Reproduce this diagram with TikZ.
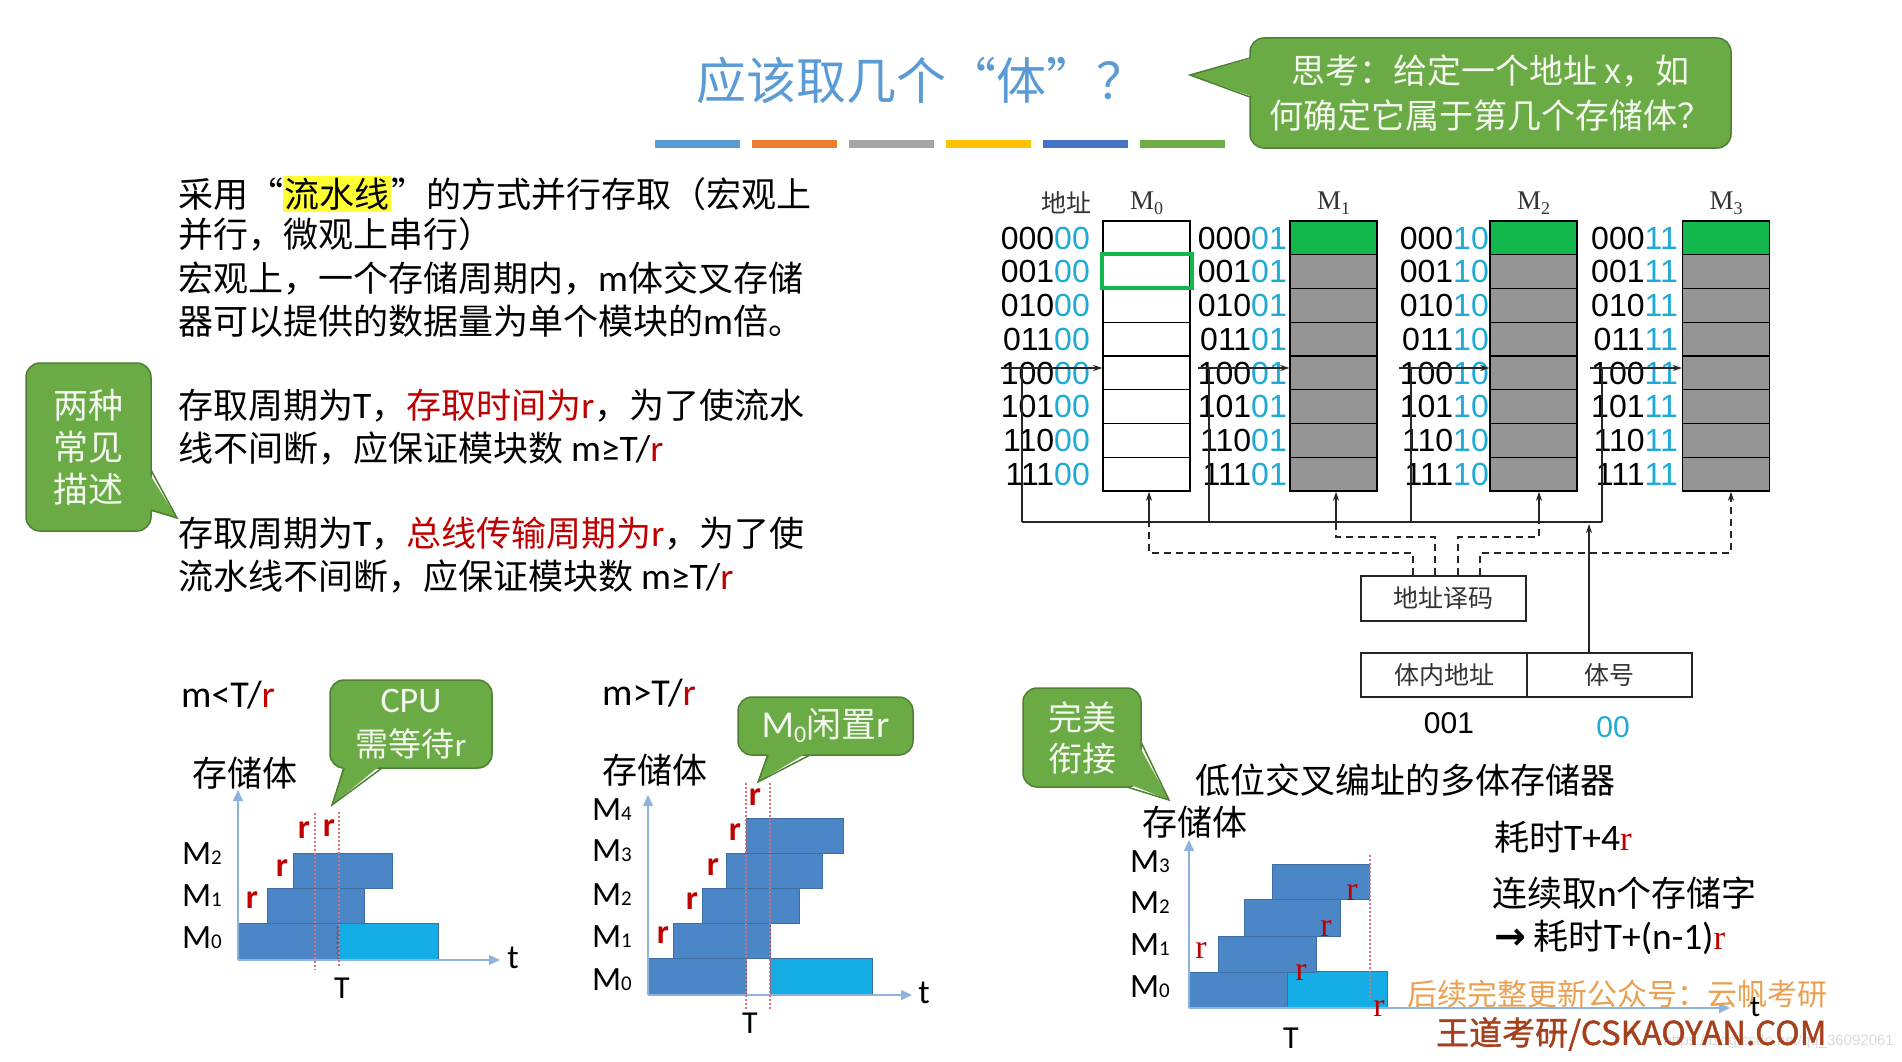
\documentclass[tikz,border=0pt]{standalone}
\usepackage{fontspec}
\setmainfont{Noto Sans CJK SC}
\newfontfamily\calfont{Carlito}
\newfontfamily\latf[Scale=1.07]{Carlito}
\newfontfamily\serfont{Liberation Serif}
\newfontfamily\arifont{Liberation Sans}
\newfontfamily\djvfont{DejaVu Sans}
\newfontfamily\boldcjk[FakeBold=1.2]{Noto Sans CJK SC}
\usetikzlibrary{arrows.meta,decorations.pathmorphing}
\newcommand\fsz[1]{\fontsize{#1}{#1}\selectfont}
\newcommand\Mlab[1]{M{\fsz{21}#1}}
\newcommand\lt[1]{{\latf #1}}
\definecolor{titleblue}{HTML}{5B9BD5}
\definecolor{cgreen}{HTML}{6AAB45}
\definecolor{cgreenD}{HTML}{4F7F33}
\definecolor{ctext}{HTML}{F4F8EE}
\definecolor{dred}{HTML}{C00000}
\definecolor{addrblue}{HTML}{1FAAD6}
\definecolor{memgray}{HTML}{959595}
\definecolor{memgreen}{HTML}{12B84B}
\definecolor{barblue}{HTML}{4B86C6}
\definecolor{barblueD}{HTML}{3C6DA3}
\definecolor{barcyan}{HTML}{14ADE6}
\definecolor{axisblue}{HTML}{8DB3DE}
\definecolor{hlyellow}{HTML}{FFFF33}
\definecolor{wmorange}{HTML}{EAA050}
\definecolor{wmred}{HTML}{A5401C}
\definecolor{dotred}{HTML}{D9707A}
\definecolor{bari}{HTML}{5B9BD5}
\definecolor{barii}{HTML}{ED7D31}
\definecolor{bariii}{HTML}{A5A5A5}
\definecolor{bariv}{HTML}{FFC000}
\definecolor{barv}{HTML}{4472C4}
\definecolor{barvi}{HTML}{70AD47}
\setlength{\fboxsep}{1.5pt}
\begin{document}
\begin{tikzpicture}[x=1pt,y=-1pt,
  body/.style={anchor=west,inner sep=0pt,font=\fsz{35}},
  callbox/.style={fill=cgreen,draw=cgreenD,line width=1.5pt,rounded corners=14pt,text=ctext,align=center,inner sep=0pt},
  cell/.style={draw=black,line width=1.4pt,minimum width=87pt,minimum height=33.75pt,inner sep=0pt},
  addr/.style={anchor=east,inner sep=0pt,font=\arifont\fsz{32}},
  wire/.style={draw=black!85,line width=1.5pt},
  dashw/.style={draw=black!85,line width=1.5pt,dash pattern=on 7pt off 5pt},
  tip/.style={-{Stealth[length=9pt,width=6pt]}},
  axis/.style={draw=axisblue,line width=1.5pt,-{Triangle[length=11pt,width=10pt]}},
  barst/.style={fill=barblue,draw=barblueD,line width=1pt},
  cyanst/.style={fill=barcyan,draw=barblueD,line width=1pt},
  dotl/.style={draw=dotred,line width=1.2pt,dash pattern=on 2pt off 2pt},
  mlab/.style={font=\calfont\fsz{34},inner sep=0pt},
  rlab/.style={font=\calfont\bfseries\fsz{34},text=dred,inner sep=0pt},
  rser/.style={font=\serfont\fsz{34},text=dred,inner sep=0pt},
  cjk/.style={font=\fsz{35},inner sep=0pt},
  boxst/.style={draw=black!85,line width=1.5pt,inner sep=0pt,font=\fsz{25},text=black!80}
]
\useasboundingbox (0,0) rectangle (1902,1062);
\fill[white] (0,0) rectangle (1902,1062);

% ---------- title ----------
\node[font=\fsz{50},text=titleblue,inner sep=0pt] (title) at (921,80) {应该取几个“体”？};
\foreach \k/\col in {0/bari,1/barii,2/bariii,3/bariv,4/barv,5/barvi}
  \fill[\col] ({655+97*\k},140) rectangle ++(85,8);

% ---------- callout top right ----------
\node[callbox,minimum width=481pt,minimum height=110pt,font=\fontsize{34}{45}\selectfont] (think) at (1490.5,93)
  {思考：给定一个地址 x，如\\何确定它属于第几个存储体？};
\coordinate (thinktip) at (1190,75);
\fill[cgreen] (1254,58) -- (thinktip) -- (1254,97) -- cycle;
\draw[cgreenD,line width=1.5pt] (1250,58) -- (thinktip) -- (1250,97);

% ---------- left text ----------
\node[body] (l1) at (178,194) {采用“\colorbox{hlyellow}{流水线}”的方式并行存取（宏观上};
\node[body] (l2) at (178,234) {并行，微观上串行）};
\node[body] (l3) at (178,279) {宏观上，一个存储周期内，\lt{m}体交叉存储};
\node[body] (l4) at (178,321) {器可以提供的数据量为单个模块的\lt{m}倍。};
\node[body] (l5) at (178,406) {存取周期为\lt{T}，\textcolor{dred}{存取时间为\lt{r}}，为了使流水};
\node[body] (l6) at (178,449) {线不间断，应保证模块数 \lt{m≥T/\textcolor{dred}{r}}};
\node[body] (l7) at (178,534) {存取周期为\lt{T}，\textcolor{dred}{总线传输周期为\lt{r}}，为了使};
\node[body] (l8) at (178,577) {流水线不间断，应保证模块数 \lt{m≥T/\textcolor{dred}{r}}};

% callout two descriptions
\node[callbox,minimum width=125pt,minimum height=168pt,font=\fontsize{35}{42}\selectfont] (two) at (88.5,447) {两种\\常见\\描述};
\coordinate (twotip) at (177,518);
\fill[cgreen] (147,470) -- (twotip) -- (147,510) -- cycle;
\draw[cgreenD,line width=1.5pt] (151,470) -- (twotip) -- (151,510);

% ---------- memory diagram ----------
\node[font=\fsz{25},text=black!80,inner sep=0pt] (addrhead) at (1066,203) {地址};
\foreach \c/\cx/\lx/\suf/\vx/\hx/\jx in {0/1146.5/1090/00/1022/1001/1149,1/1333.5/1287/01/1209/1198/1336,2/1533.5/1489/10/1411/1399/1539,3/1726/1678/11/1602/1590/1731}{
  \node[font=\serfont\fsz{27},inner sep=0pt,text=black!80] (mh\c) at (\cx,203) {M\raisebox{-5pt}{\fsz{18}\c}};
  \foreach \b [count=\i from 0] in {000,001,010,011,100,101,110,111}{
    \ifnum\i=0 \def\fc{memgreen}\else\def\fc{memgray}\fi
    \ifnum\c=0 \def\fc{white}\fi
    \node[cell,fill=\fc] (m\c-\i) at (\cx,{237.9+33.75*\i}) {};
    \node[addr] (a\c-\i) at (\lx,{238+33.75*\i}) {\b\textcolor{addrblue}{\suf}};
  }
  \coordinate (h\c) at (\hx,368);
  \coordinate (v\c) at (\vx,368);
  \coordinate (vb\c) at (\vx,522);
  \coordinate (j\c) at (\jx,522);
  \draw[wire,tip] (h\c) -- (h\c -| m\c-4.west);
  \draw[wire] (v\c) -- (vb\c);
}
\draw[memgreen,line width=3.5pt] (1102,254) rectangle (1192,288);
\draw[wire] (vb0) -- (vb3);

\node[boxst,minimum width=165pt,minimum height=45pt] (dec) at (1443.5,598.5) {地址译码};
\node[boxst,minimum width=166pt,minimum height=44pt] (inner) at (1444,675) {体内地址};
\node[boxst,minimum width=165pt,minimum height=44pt] (bank) at (1609.5,675) {体号};
\coordinate (busup) at (1589,524);
\draw[wire,tip] ([xshift=-20.5pt]bank.north) -- (busup);
\node[font=\arifont\fsz{30},inner sep=0pt] (v001) at (1449,723) {001};
\node[font=\arifont\fsz{30},text=addrblue,inner sep=0pt] (v00) at (1613,727) {00};

\coordinate (k0) at (1149,553);
\coordinate (k1) at (1336,537);
\coordinate (k2) at (1539,537);
\coordinate (k3) at (1731,553);
\draw[dashw] ([xshift=-30.5pt]dec.north) |- (k0) -- (j0);
\draw[dashw] ([xshift=-8.5pt]dec.north) |- (k1) -- (j1);
\draw[dashw] ([xshift=14.5pt]dec.north) |- (k2) -- (j2);
\draw[dashw,tip] ([xshift=36.5pt]dec.north) |- (k3) -- (k3 |- m3-7.south);
\draw[wire,tip] (j0) -- (j0 |- m0-7.south);
\draw[wire,tip] (j1) -- (j1 |- m1-7.south);
\draw[wire,tip] (j2) -- (j2 |- m2-7.south);

% ---------- chart 1 : m<T/r ----------
\node[anchor=west,font=\calfont\fsz{38},inner sep=0pt] (h1) at (181,695) {m<T/\textcolor{dred}{r}};
\node[cjk] (s1) at (245,773) {存储体};
\draw[barst] (238,923) rectangle (338,960);
\draw[cyanst] (338,923) rectangle (438,960);
\draw[barblueD,line width=1.2pt,decorate,decoration={snake,amplitude=1.3pt,segment length=5pt}] (338,924) -- (338,959);
\draw[barst] (267,888) rectangle (364,923);
\draw[barst] (293,853) rectangle (392,888);
\coordinate (o1) at (238,960);
\draw[axis] (o1) -- (238,790);
\draw[axis] (o1) -- (500,960);
\draw[dotl] (315,813) -- (315,970);
\draw[dotl] (339,812) -- (339,968);
\node[mlab] (c1m2) at (202,854) {\Mlab{2}};
\node[mlab] (c1m1) at (202,896) {\Mlab{1}};
\node[mlab] (c1m0) at (202,938) {\Mlab{0}};
\node[rlab] at (252,900) {r};
\node[rlab] at (282,868) {r};
\node[rlab] at (304,830) {r};
\node[rlab] at (329,828) {r};
\node[font=\calfont\fsz{32},inner sep=0pt] (T1) at (342,988) {T};
\node[font=\calfont\fsz{34},inner sep=0pt] (t1) at (513,958) {t};
\node[callbox,minimum width=162pt,minimum height=88pt,font=\fontsize{33}{44}\selectfont] (cpu) at (411,724) {{\calfont\fsz{36}CPU}\\需等待{\calfont r}};
\coordinate (cputip) at (332,805);
\fill[cgreen] (344,764) -- (cputip) -- (382,764) -- cycle;
\draw[cgreenD,line width=1.5pt] (344,768) -- (cputip) -- (382,768);

% ---------- chart 2 : m>T/r ----------
\node[anchor=west,font=\calfont\fsz{38},inner sep=0pt] (h2) at (602,693) {m>T/\textcolor{dred}{r}};
\node[cjk] (s2) at (655,770) {存储体};
\draw[barst] (648,958) rectangle (746,995);
\draw[cyanst] (770,958) rectangle (872,995);
\draw[barst] (673,923) rectangle (770,958);
\draw[barst] (702,888) rectangle (799,923);
\draw[barst] (726,853) rectangle (822,888);
\draw[barst] (746,818) rectangle (843,853);
\coordinate (o2) at (648,995);
\draw[axis] (o2) -- (648,795);
\draw[axis] (o2) -- (912,995);
\draw[dotl] (746,783) -- (746,1010);
\draw[dotl] (770,783) -- (770,1010);
\node[mlab] (c2m4) at (612,810) {\Mlab{4}};
\node[mlab] (c2m3) at (612,851) {\Mlab{3}};
\node[mlab] (c2m2) at (612,895) {\Mlab{2}};
\node[mlab] (c2m1) at (612,937) {\Mlab{1}};
\node[mlab] (c2m0) at (612,980) {\Mlab{0}};
\node[rlab] at (663,935) {r};
\node[rlab] at (692,901) {r};
\node[rlab] at (713,867) {r};
\node[rlab] at (735,832) {r};
\node[rlab] at (755,797) {r};
\node[font=\calfont\fsz{32},inner sep=0pt] (T2) at (750,1023) {T};
\node[font=\calfont\fsz{34},inner sep=0pt] (t2) at (924,993) {t};
\node[callbox,minimum width=175pt,minimum height=58pt,font=\fsz{35}] (idle) at (825.5,726) {{\calfont\fsz{38}M\raisebox{-5pt}{\fsz{24}0}}闲置{\calfont\fsz{38}r}};
\coordinate (idletip) at (758,782);
\fill[cgreen] (768,751) -- (idletip) -- (810,751) -- cycle;
\draw[cgreenD,line width=1.5pt] (768,755) -- (idletip) -- (810,755);

% ---------- chart 3 : perfect ----------
\node[callbox,minimum width=118pt,minimum height=99pt,font=\fontsize{34}{41}\selectfont] (perf) at (1082,737.5) {完美\\衔接};
\coordinate (perftip) at (1169,800);
\fill[cgreen] (1137,742) -- (perftip) -- (1126,783) -- cycle;
\draw[cgreenD,line width=1.5pt] (1141,742) -- (perftip) -- (1127,787);
\node[anchor=west,font=\fsz{35},inner sep=0pt] (lowint) at (1195,780) {低位交叉编址的多体存储器};
\node[cjk] (s3) at (1195,822) {存储体};
\draw[barst] (1189,972) rectangle (1287,1008);
\draw[cyanst] (1287,971) rectangle (1387,1008);
\draw[barst] (1218,936) rectangle (1316,972);
\draw[barst] (1244,899) rectangle (1340,936);
\draw[barst] (1272,864) rectangle (1369,899);
\coordinate (o3) at (1189,1008);
\draw[axis] (o3) -- (1189,840);
\draw[axis] (o3) -- (1730,1008);
\draw[dotl] (1370,855) -- (1370,1000);
\node[mlab] (c3m3) at (1150,862) {\Mlab{3}};
\node[mlab] (c3m2) at (1150,903) {\Mlab{2}};
\node[mlab] (c3m1) at (1150,945) {\Mlab{1}};
\node[mlab] (c3m0) at (1150,987) {\Mlab{0}};
\node[rser] at (1201,950) {r};
\node[rser] at (1352,892) {r};
\node[rser] at (1326,928) {r};
\node[rser] at (1301,972) {r};
\node[rser] at (1379,1008) {r};
\node[font=\calfont\fsz{32},inner sep=0pt] (T3) at (1291,1038) {T};
\node[anchor=west,font=\fsz{35},inner sep=0pt] (cost1) at (1494,837) {耗时\lt{T+4}\textcolor{dred}{\serfont r}};
\node[anchor=west,font=\fsz{35},inner sep=0pt] (cost2) at (1492,893) {连续取\lt{n}个存储字};
\node[anchor=west,font=\fsz{35},inner sep=0pt] (cost3) at (1494,937) {{\djvfont\bfseries\fsz{38}→} 耗时\lt{T+(n-1)}\textcolor{dred}{\serfont r}};

% ---------- watermarks ----------
\node[anchor=west,font=\fsz{30},text=wmorange,inner sep=0pt] (wm1) at (1407,994) {后续完整更新公众号：云帆考研};
\node[anchor=east,font=\arifont\fsz{15},text=black!14,inner sep=0pt] (url) at (1894,1042) {https://blog.csdn.net/qq\_36092061};
\node[anchor=west,font=\boldcjk\fsz{33},text=wmred,inner sep=0pt] (wm2) at (1436,1034) {王道考研/CSKAOYAN.COM};
\node[font=\calfont\fsz{30},inner sep=0pt] (t3) at (1755,1007) {t};
\end{tikzpicture}
\end{document}
